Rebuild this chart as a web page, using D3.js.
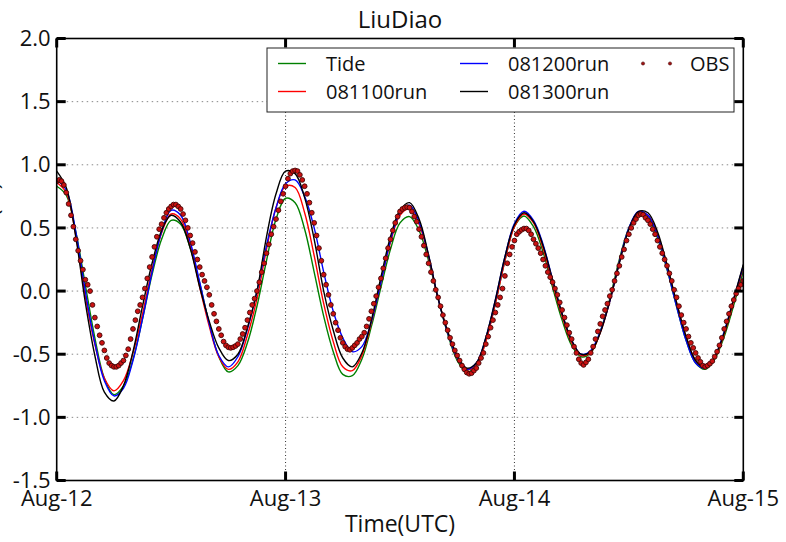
<!DOCTYPE html>
<html lang="en">
<head>
<meta charset="utf-8" />
<title>LiuDiao</title>
<script src="https://cdn.jsdelivr.net/npm/d3@7"></script>
<style>
  body { margin: 0; background: #fff; font-family: "Open Sans", sans-serif; }
  .tick-label { font-size: 22px; fill: #111; }
  .grid-h { stroke: #8a8a8a; stroke-width: 1; stroke-dasharray: 1.5,3.5; }
  .grid-v { stroke: #333; stroke-width: 1; stroke-dasharray: 1,2.5; }
</style>
</head>
<body>
<svg id="chart" width="786" height="542"></svg>
<script>

// time axis
var startDay = "2015-08-12T00:00:00Z";
var endDay = "2015-08-15T00:00:00Z";
var modelStepMin = 60;   // model output every hour
var obsStepMin = 15;     // observations every 15 min
var yTicks = [-1.5, -1.0, -0.5, 0.0, 0.5, 1.0, 1.5, 2.0];

var seriesNames = ["Tide", "081100run", "081200run", "081300run"];
var seriesColors = ["#008000", "#ff0000", "#0000ff", "#000000"];

var tide = [0.83,0.76,0.47,0.05,-0.37,-0.69,-0.82,-0.75,-0.54,-0.22,
  0.13,0.41,0.56,0.53,0.34,0.06,-0.26,-0.52,-0.64,-0.59,
  -0.41,-0.12,0.24,0.57,0.735,0.70,0.49,0.15,-0.20,-0.48,
  -0.66,-0.67,-0.54,-0.28,0.03,0.33,0.54,0.59,0.48,0.24,
  -0.06,-0.34,-0.55,-0.64,-0.59,-0.39,-0.10,0.24,0.51,0.595,
  0.51,0.31,0.03,-0.23,-0.43,-0.52,-0.49,-0.32,-0.06,0.25,
  0.50,0.62,0.58,0.42,0.17,-0.12,-0.39,-0.57,-0.62,-0.54,
  -0.36,-0.11,0.16];

var run0811 = [0.86,0.78,0.44,-0.04,-0.42,-0.69,-0.79,-0.71,-0.49,-0.18,
  0.17,0.46,0.61,0.57,0.36,0.03,-0.28,-0.52,-0.62,-0.56,
  -0.35,-0.06,0.33,0.66,0.83,0.82,0.62,0.28,-0.10,-0.40,
  -0.60,-0.63,-0.51,-0.25,0.07,0.385,0.60,0.65,0.53,0.27,
  -0.06,-0.32,-0.53,-0.62,-0.59,-0.40,-0.10,0.24,0.51,0.61,
  0.54,0.34,0.06,-0.20,-0.41,-0.51,-0.485,-0.33,-0.08,0.23,
  0.49,0.62,0.60,0.45,0.20,-0.09,-0.36,-0.55,-0.61,-0.53,
  -0.34,-0.08,0.19];

var run0812 = [0.88,0.80,0.47,0.00,-0.41,-0.71,-0.83,-0.77,-0.55,-0.22,
  0.15,0.47,0.64,0.60,0.39,0.07,-0.26,-0.51,-0.60,-0.52,
  -0.30,0.00,0.36,0.66,0.85,0.88,0.75,0.50,0.15,-0.16,
  -0.37,-0.48,-0.44,-0.24,0.07,0.40,0.62,0.68,0.55,0.28,
  -0.06,-0.33,-0.53,-0.62,-0.57,-0.37,-0.07,0.27,0.535,0.632,
  0.56,0.37,0.09,-0.18,-0.39,-0.50,-0.47,-0.32,-0.08,0.23,
  0.50,0.63,0.60,0.44,0.18,-0.12,-0.39,-0.57,-0.61,-0.52,
  -0.32,-0.06,0.20];

var run0813 = [0.95,0.82,0.43,-0.09,-0.51,-0.80,-0.87,-0.75,-0.48,-0.12,
  0.22,0.48,0.60,0.545,0.34,0.03,-0.24,-0.45,-0.55,-0.50,
  -0.29,0.00,0.43,0.77,0.95,0.93,0.74,0.41,0.00,-0.31,
  -0.53,-0.60,-0.49,-0.23,0.11,0.43,0.64,0.70,0.57,0.285,
  -0.06,-0.32,-0.51,-0.61,-0.57,-0.37,-0.07,0.27,0.525,0.62,
  0.55,0.36,0.09,-0.18,-0.39,-0.50,-0.48,-0.33,-0.08,0.22,
  0.49,0.63,0.62,0.47,0.21,-0.09,-0.36,-0.55,-0.605,-0.52,
  -0.33,-0.06,0.21];

var obs = [0.87,0.88,0.87,0.84, 0.78,0.69,0.60,0.51, 0.41,0.32,0.24,0.17,
  0.09,0.05,0.00,-0.11, -0.21,-0.28,-0.35,-0.41, -0.47,-0.53,-0.57,-0.59,
  -0.60,-0.60,-0.59,-0.57, -0.55,-0.51,-0.46,-0.38, -0.30,-0.23,-0.16,-0.11,
  -0.05,0.02,0.10,0.19, 0.27,0.35,0.43,0.49, 0.53,0.58,0.62,0.65,
  0.67,0.685,0.685,0.67, 0.65,0.61,0.56,0.50, 0.44,0.38,0.31,0.25,
  0.19,0.13,0.08,0.03, -0.03,-0.11,-0.18,-0.24, -0.30,-0.35,-0.40,-0.43,
  -0.445,-0.45,-0.445,-0.435, -0.42,-0.38,-0.34,-0.29, -0.23,-0.17,-0.11,-0.06,
  0.00,0.07,0.15,0.22, 0.30,0.37,0.45,0.51, 0.57,0.64,0.71,0.77,
  0.83,0.89,0.93,0.95, 0.955,0.95,0.92,0.88, 0.83,0.77,0.70,0.62,
  0.54,0.44,0.34,0.24, 0.13,0.05,-0.03,-0.11, -0.18,-0.25,-0.31,-0.37,
  -0.41,-0.44,-0.46,-0.465, -0.45,-0.43,-0.41,-0.38, -0.36,-0.33,-0.28,-0.22,
  -0.16,-0.10,-0.04,0.03, 0.10,0.18,0.26,0.34, 0.41,0.48,0.54,0.59,
  0.63,0.65,0.66,0.665, 0.66,0.63,0.59,0.55, 0.49,0.43,0.36,0.29,
  0.22,0.15,0.08,0.01, -0.05,-0.12,-0.19,-0.25, -0.31,-0.37,-0.42,-0.47,
  -0.51,-0.55,-0.59,-0.62, -0.645,-0.655,-0.65,-0.63, -0.61,-0.57,-0.53,-0.49,
  -0.42,-0.36,-0.29,-0.23, -0.17,-0.11,-0.05,0.02, 0.12,0.22,0.29,0.35,
  0.40,0.45,0.47,0.485, 0.495,0.495,0.48,0.45, 0.41,0.375,0.34,0.30,
  0.25,0.20,0.15,0.11, 0.07,0.02,-0.03,-0.09, -0.15,-0.21,-0.27,-0.33,
  -0.38,-0.44,-0.49,-0.54, -0.57,-0.585,-0.565,-0.54, -0.49,-0.44,-0.38,-0.32,
  -0.26,-0.20,-0.15,-0.10, -0.04,0.01,0.08,0.14, 0.20,0.27,0.33,0.40,
  0.45,0.50,0.54,0.57, 0.60,0.61,0.605,0.58, 0.56,0.53,0.49,0.45,
  0.40,0.35,0.30,0.25, 0.20,0.14,0.08,0.01, -0.05,-0.12,-0.19,-0.25,
  -0.30,-0.36,-0.41,-0.45, -0.49,-0.53,-0.56,-0.59, -0.60,-0.59,-0.575,-0.555,
  -0.52,-0.48,-0.43,-0.37, -0.30,-0.24,-0.18,-0.12, -0.07,-0.02,0.02,0.05,
  0.08];

var seriesValues = [tide, run0811, run0812, run0813];

var svg = d3.select("#chart");
var W = 786, H = 542;
var margin = {left: 56.7, right: 42.7, top: 38.5, bottom: 61.5};
var x0 = margin.left, x1 = W - margin.right;
var y0 = margin.top, y1 = H - margin.bottom;

var t0 = new Date(startDay);
var x = d3.scaleUtc().domain([t0, new Date(endDay)]).range([x0, x1]);
var y = d3.scaleLinear().domain([-1.5, 2.0]).range([y1, y0]);

function timeAt(i, stepMin) {
  return new Date(t0.getTime() + i * stepMin * 60000);
}

var dayTicks = x.ticks(d3.utcDay.every(1));
var fmtDay = d3.utcFormat("%b-%d");

// grid
svg.append("g").selectAll("line")
  .data(yTicks.filter(function(d) { return d > -1.5 && d < 2.0; }))
  .enter().append("line")
  .attr("class", "grid-h")
  .attr("x1", x0).attr("x2", x1)
  .attr("y1", function(d) { return y(d); })
  .attr("y2", function(d) { return y(d); });

svg.append("g").selectAll("line")
  .data(dayTicks.slice(1, -1))
  .enter().append("line")
  .attr("class", "grid-v")
  .attr("y1", y0).attr("y2", y1)
  .attr("x1", function(d) { return x(d); })
  .attr("x2", function(d) { return x(d); });

// series
svg.append("clipPath").attr("id", "clip")
  .append("rect").attr("x", x0).attr("y", y0).attr("width", x1 - x0).attr("height", y1 - y0);

var plot = svg.append("g").attr("clip-path", "url(#clip)");

var line = d3.line()
  .x(function(d, i) { return x(timeAt(i, modelStepMin)); })
  .y(function(d) { return y(d); })
  .curve(d3.curveCatmullRom.alpha(0.5));

seriesValues.forEach(function(vals, k) {
  plot.append("path")
    .datum(vals)
    .attr("fill", "none")
    .attr("stroke", seriesColors[k])
    .attr("stroke-width", 1.4)
    .attr("d", line);
});

plot.append("g").selectAll("circle")
  .data(obs)
  .enter().append("circle")
  .attr("cx", function(d, i) { return x(timeAt(i, obsStepMin)); })
  .attr("cy", function(d) { return y(d); })
  .attr("r", 2.4)
  .attr("fill", "#cc1212")
  .attr("stroke", "#420606")
  .attr("stroke-width", 0.9);

// frame and ticks (inward, on all sides)
svg.append("rect")
  .attr("x", x0).attr("y", y0).attr("width", x1 - x0).attr("height", y1 - y0)
  .attr("fill", "none").attr("stroke", "#000").attr("stroke-width", 1.6);

var tickLen = 9, tickW = 3;
var yt = svg.append("g");
yTicks.forEach(function(d) {
  yt.append("line").attr("x1", x0).attr("x2", x0 + tickLen)
    .attr("y1", y(d)).attr("y2", y(d)).attr("stroke", "#000").attr("stroke-width", tickW);
  yt.append("line").attr("x1", x1).attr("x2", x1 - tickLen)
    .attr("y1", y(d)).attr("y2", y(d)).attr("stroke", "#000").attr("stroke-width", tickW);
  yt.append("text").attr("class", "tick-label")
    .attr("x", x0 - 6).attr("y", y(d)).attr("dy", "0.35em")
    .attr("text-anchor", "end")
    .text(d.toFixed(1));
});

var xt = svg.append("g");
dayTicks.forEach(function(d) {
  xt.append("line").attr("x1", x(d)).attr("x2", x(d))
    .attr("y1", y1).attr("y2", y1 - tickLen).attr("stroke", "#000").attr("stroke-width", tickW);
  xt.append("line").attr("x1", x(d)).attr("x2", x(d))
    .attr("y1", y0).attr("y2", y0 + tickLen).attr("stroke", "#000").attr("stroke-width", tickW);
  xt.append("text").attr("class", "tick-label")
    .attr("x", x(d)).attr("y", y1 + 25)
    .attr("text-anchor", "middle")
    .text(fmtDay(d));
});

// titles
svg.append("text")
  .attr("x", (x0 + x1) / 2).attr("y", 28)
  .attr("text-anchor", "middle")
  .attr("font-size", 24).attr("fill", "#111")
  .text("LiuDiao");

svg.append("text")
  .attr("x", (x0 + x1) / 2).attr("y", 532)
  .attr("text-anchor", "middle")
  .attr("font-size", 23).attr("fill", "#111")
  .text("Time(UTC)");

svg.append("text")
  .attr("transform", "translate(-1," + ((y0 + y1) / 2) + ") rotate(-90)")
  .attr("text-anchor", "middle")
  .attr("font-size", 22).attr("fill", "#111")
  .text("Water Level(m)");

// legend
var lg = svg.append("g");
lg.append("rect")
  .attr("x", 267).attr("y", 48).attr("width", 467).attr("height", 64)
  .attr("fill", "#fff").attr("stroke", "#222").attr("stroke-width", 1);

var legendPos = [[278, 63.5], [278, 91.5], [460, 63.5], [460, 91.5]];
seriesNames.forEach(function(name, k) {
  var p = legendPos[k];
  lg.append("line").attr("x1", p[0]).attr("x2", p[0] + 28)
    .attr("y1", p[1]).attr("y2", p[1])
    .attr("stroke", seriesColors[k]).attr("stroke-width", 1.4);
  lg.append("text")
    .attr("x", p[0] + 48).attr("y", p[1]).attr("dy", "0.35em")
    .attr("font-size", 20).attr("fill", "#111")
    .text(name);
});
[643, 670].forEach(function(cx) {
  lg.append("circle").attr("cx", cx).attr("cy", 63.5).attr("r", 1.6)
    .attr("fill", "#a01010").attr("stroke", "#4a0808").attr("stroke-width", 0.6);
});
lg.append("text")
  .attr("x", 690).attr("y", 63.5).attr("dy", "0.35em")
  .attr("font-size", 20).attr("fill", "#111")
  .text("OBS");

</script>
</body>
</html>
